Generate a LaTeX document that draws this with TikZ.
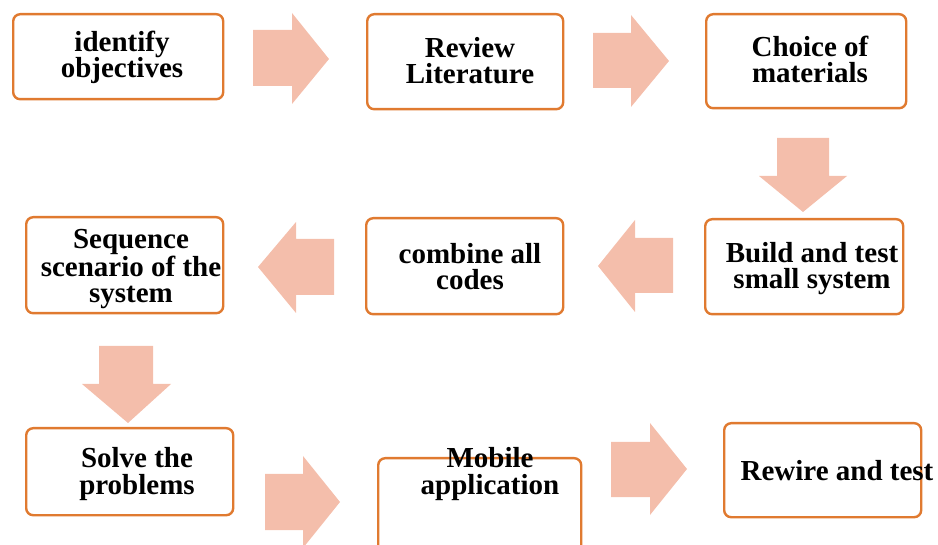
\documentclass[tikz,border=0pt]{standalone}
\usepackage{fontspec}
\setmainfont{Liberation Serif}
\definecolor{boxc}{HTML}{E07A30}
\definecolor{arrc}{HTML}{F4BEAB}
\begin{document}
\begin{tikzpicture}[x=1pt,y=-1pt,
  box/.style={draw=boxc,line width=2.4pt,rounded corners=7pt,anchor=north west,inner sep=0pt},
  lbl/.style={font=\fontsize{29}{26.5}\selectfont\bfseries,align=center,inner sep=0pt,anchor=base},
  barrow/.style={fill=arrc,draw=none}]
\useasboundingbox (0,0) rectangle (938,545);
\clip (0,0) rectangle (938,545);
% boxes
\node[box,minimum width=210pt,minimum height=85pt] (b1) at (12,13) {};
\node[box,minimum width=196pt,minimum height=95pt] (b2) at (366,13) {};
\node[box,minimum width=200pt,minimum height=94pt] (b3) at (705,13) {};
\node[box,minimum width=198pt,minimum height=95pt] (b4) at (704,218) {};
\node[box,minimum width=197pt,minimum height=96pt] (b5) at (365,217) {};
\node[box,minimum width=197pt,minimum height=96pt] (b6) at (25,216) {};
\node[box,minimum width=207pt,minimum height=87pt] (b7) at (25,427) {};
\node[box,minimum width=203pt,minimum height=103pt] (b8) at (377,457) {};
\node[box,minimum width=197pt,minimum height=94pt] (b9) at (723,422) {};
% texts (anchor = baseline of last line)
\node[lbl] (t1) at (122,78) {identify\\objectives};
\node[lbl] (t2) at (470,84) {Review\\Literature};
\node[lbl] (t3) at (810,83) {Choice of\\materials};
\node[lbl] (t4) at (812,289) {Build and test\\small system};
\node[lbl] (t5) at (470,290) {combine all\\codes};
\node[lbl] (t6) at (131,303) {Sequence\\scenario of the\\system};
\node[lbl] (t7) at (137,494) {Solve the\\problems};
\node[lbl] (t8) at (490,494) {Mobile\\application};
\node[lbl] (t9) at (837,480) {Rewire and test};
% block arrows
\path[barrow] (253,30) -- (292,30) -- (292,13) -- (329,59) -- (292,104) -- (292,86) -- (253,86) -- cycle;
\path[barrow] (593,33) -- (631,33) -- (631,15) -- (669,61) -- (631,107) -- (631,88) -- (593,88) -- cycle;
\path[barrow] (777,138) -- (829,138) -- (829,176) -- (847,176) -- (803,212) -- (759,176) -- (777,176) -- cycle;
\path[barrow] (673,238) -- (635,238) -- (635,220) -- (598,266) -- (635,312) -- (635,293) -- (673,293) -- cycle;
\path[barrow] (334,239) -- (296,239) -- (296,222) -- (258,267) -- (296,313) -- (296,295) -- (334,295) -- cycle;
\path[barrow] (99,346) -- (153,346) -- (153,384) -- (171,384) -- (128,423) -- (82,384) -- (99,384) -- cycle;
\path[barrow] (265,474) -- (303,474) -- (303,456) -- (340,502) -- (303,548) -- (303,530) -- (265,530) -- cycle;
\path[barrow] (611,442) -- (650,442) -- (650,423) -- (687,469) -- (650,515) -- (650,497) -- (611,497) -- cycle;
\end{tikzpicture}
\end{document}
